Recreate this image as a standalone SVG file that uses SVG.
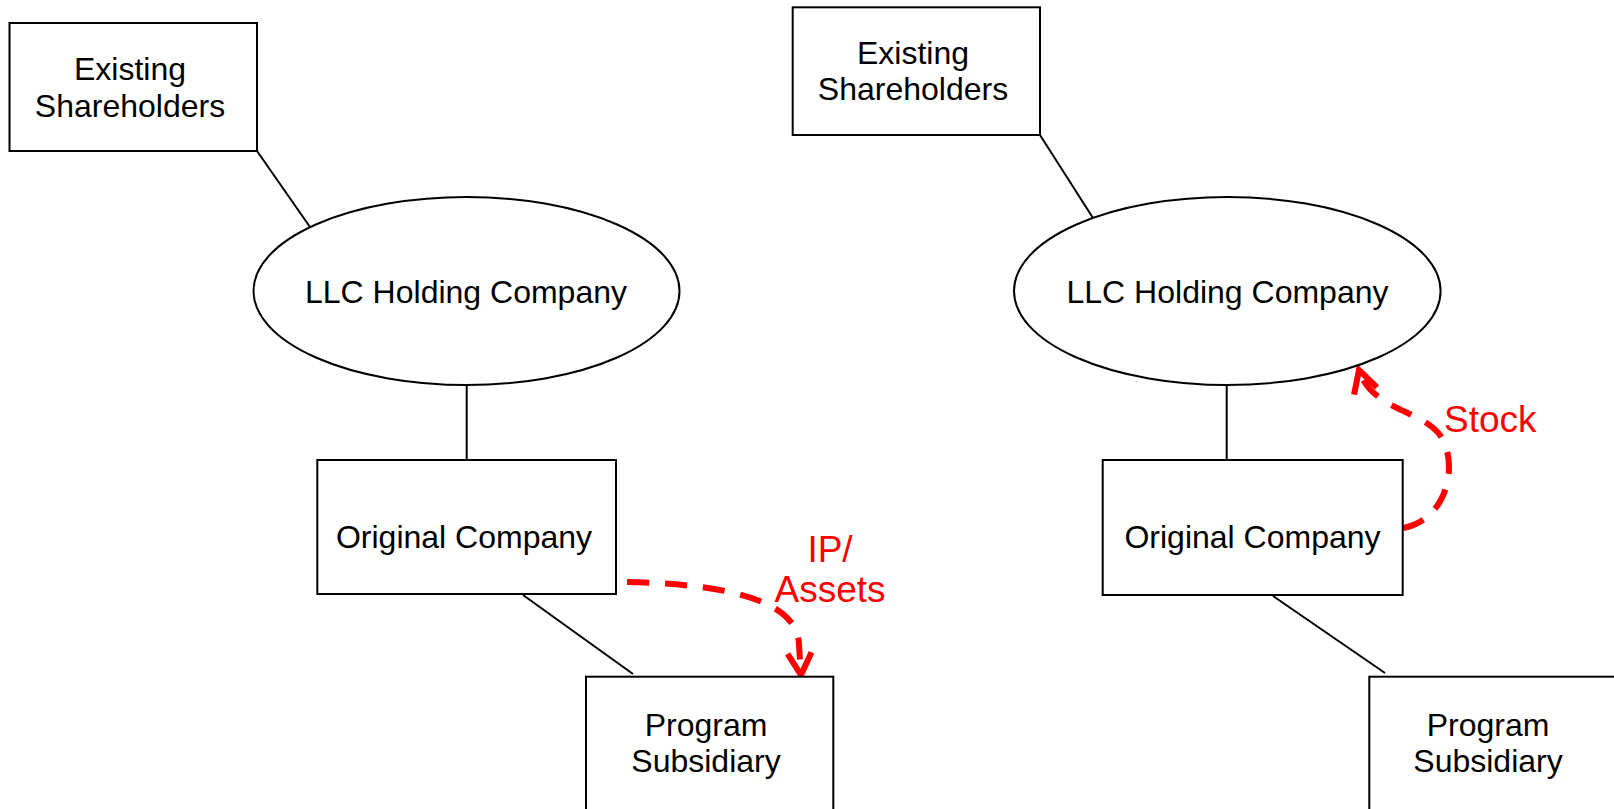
<svg xmlns="http://www.w3.org/2000/svg" width="1614" height="809" viewBox="0 0 1614 809">
<style>
  .box { fill: #fff; stroke: #000; stroke-width: 2; }
  .lbl { font-family: "Liberation Sans", Arial, sans-serif; font-size: 32px; fill: #000; text-anchor: middle; }
  .red { font-family: "Liberation Sans", Arial, sans-serif; font-size: 37px; fill: #ff0000; }
  .link { stroke: #000; stroke-width: 2; fill: none; }
  .flow { stroke: #ff0000; stroke-width: 6; fill: none; stroke-dasharray: 22 16; }
</style>
<defs>
  <marker id="vhead" markerUnits="userSpaceOnUse" markerWidth="40" markerHeight="40" refX="20" refY="20" orient="auto" overflow="visible">
    <path d="M-2,8 L20,20 L-2,32" fill="none" stroke="#ff0000" stroke-width="6" stroke-linejoin="miter"/>
  </marker>
</defs>
<rect width="1614" height="809" fill="#fff"/>

<g id="connectors">
  <line class="link" x1="257" y1="151" x2="310" y2="227"/>
  <line class="link" x1="466.7" y1="385" x2="466.7" y2="460"/>
  <line class="link" x1="523" y1="595" x2="633" y2="674"/>
  <line class="link" x1="1040" y1="135" x2="1093" y2="218"/>
  <line class="link" x1="1226.7" y1="383" x2="1226.7" y2="460"/>
  <line class="link" x1="1273" y1="596" x2="1385" y2="673"/>
  <path class="flow" d="M627,582 C720,584 798,598 799,645 L801,675" marker-end="url(#vhead)"/>
  <path class="flow" d="M1403,528 C1445,520 1458,470 1443,440 C1428,410 1372,412 1359,370" marker-end="url(#vhead)"/>
  <text class="red" x="830" y="562" text-anchor="middle">IP/</text>
  <text class="red" x="830" y="602" text-anchor="middle">Assets</text>
  <text class="red" x="1444" y="432">Stock</text>
</g>

<g id="left-shareholders">
  <rect class="box" x="9.5" y="23" width="247.5" height="128"/>
  <text class="lbl" x="130" y="80">Existing</text>
  <text class="lbl" x="130" y="117">Shareholders</text>
</g>
<g id="left-llc">
  <ellipse class="box" cx="466.5" cy="291" rx="213" ry="94"/>
  <text class="lbl" x="466" y="303">LLC Holding Company</text>
</g>
<g id="left-original">
  <rect class="box" x="317.3" y="460" width="298.7" height="134"/>
  <text class="lbl" x="464" y="548">Original Company</text>
</g>
<g id="left-program">
  <rect class="box" x="586" y="676.7" width="247.3" height="160"/>
  <text class="lbl" x="706" y="736">Program</text>
  <text class="lbl" x="706" y="772">Subsidiary</text>
</g>

<g id="right-shareholders">
  <rect class="box" x="792.7" y="7.3" width="247.3" height="127.7"/>
  <text class="lbl" x="913" y="64">Existing</text>
  <text class="lbl" x="913" y="100">Shareholders</text>
</g>
<g id="right-llc">
  <ellipse class="box" cx="1227.3" cy="291" rx="213.3" ry="94"/>
  <text class="lbl" x="1227.5" y="303">LLC Holding Company</text>
</g>
<g id="right-original">
  <rect class="box" x="1102.7" y="460" width="300" height="135"/>
  <text class="lbl" x="1252.5" y="548">Original Company</text>
</g>
<g id="right-program">
  <rect class="box" x="1369.3" y="676.7" width="247.3" height="160"/>
  <text class="lbl" x="1488" y="736">Program</text>
  <text class="lbl" x="1488" y="772">Subsidiary</text>
</g>
</svg>
